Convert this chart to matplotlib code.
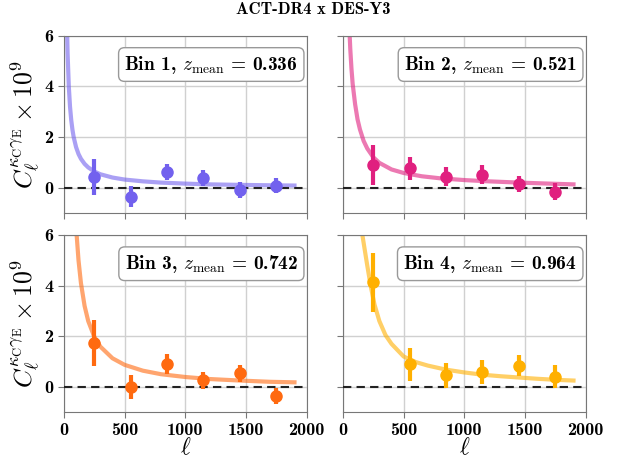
import matplotlib
matplotlib.use("Agg")
import matplotlib.pyplot as plt

plt.rcParams['font.family'] = ['cmb10', 'DejaVu Serif']
plt.rcParams['mathtext.fontset'] = 'cm'
plt.rcParams['axes.unicode_minus'] = False

# band-power centres
ell_data = [250, 550, 850, 1150, 1450, 1750]

# measured points (C_l x 1e9) and errors, per tomographic bin
bin1_cl = [0.42, -0.35, 0.63, 0.39, -0.09, 0.08]
bin1_err = [0.72, 0.40, 0.31, 0.31, 0.30, 0.31]
bin2_cl = [0.90, 0.77, 0.44, 0.51, 0.14, -0.16]
bin2_err = [0.80, 0.46, 0.39, 0.37, 0.33, 0.34]
bin3_cl = [1.74, 0.00, 0.90, 0.26, 0.53, -0.36]
bin3_err = [0.92, 0.47, 0.39, 0.33, 0.34, 0.33]
bin4_cl = [4.13, 0.90, 0.46, 0.59, 0.83, 0.40]
bin4_err = [1.17, 0.65, 0.50, 0.46, 0.41, 0.45]

# theory curves
bin1_ell = [25, 30, 40, 50, 60, 70, 80, 100, 120, 140, 170, 200, 250, 300,
            400, 500, 650, 800, 1000, 1200, 1450, 1700, 1900]
bin1_model = [6.4, 5.3, 4.0, 3.2, 2.67, 2.29, 2.0, 1.6, 1.33, 1.14, 0.94, 0.8,
              0.64, 0.53, 0.4, 0.32, 0.25, 0.2, 0.16, 0.13, 0.11, 0.094, 0.084]
bin2_ell = [50, 60, 70, 80, 100, 120, 140, 170, 200, 250, 300, 400, 500, 650,
            800, 1000, 1200, 1450, 1700, 1900]
bin2_model = [6.6, 5.5, 4.7, 4.1, 3.3, 2.7, 2.3, 1.85, 1.55, 1.2, 0.98, 0.72,
              0.58, 0.45, 0.37, 0.3, 0.25, 0.2, 0.16, 0.13]
bin3_ell = [100, 120, 140, 170, 200, 250, 300, 400, 500, 650, 800, 1000, 1200,
            1450, 1700, 1900]
bin3_model = [6.3, 5.0, 4.1, 3.2, 2.6, 1.98, 1.59, 1.13, 0.87, 0.64, 0.5, 0.39,
              0.31, 0.25, 0.2, 0.18]
bin4_ell = [140, 160, 180, 200, 230, 260, 300, 350, 400, 500, 600, 700, 850,
            1000, 1150, 1300, 1450, 1600, 1750, 1900]
bin4_model = [7.0, 6.0, 5.4, 4.8, 3.95, 3.25, 2.6, 2.05, 1.7, 1.2, 0.98, 0.84,
              0.68, 0.57, 0.48, 0.42, 0.37, 0.32, 0.28, 0.25]

labels = ['Bin 1, $z_{\\rm mean}$ = 0.336', 'Bin 2, $z_{\\rm mean}$ = 0.521',
          'Bin 3, $z_{\\rm mean}$ = 0.742', 'Bin 4, $z_{\\rm mean}$ = 0.964']
colors = ['#7261ee', '#e0207f', '#ff6a10', '#ffb000']

bins = [(bin1_ell, bin1_model, bin1_cl, bin1_err),
        (bin2_ell, bin2_model, bin2_cl, bin2_err),
        (bin3_ell, bin3_model, bin3_cl, bin3_err),
        (bin4_ell, bin4_model, bin4_cl, bin4_err)]

fig = plt.figure(figsize=(6.27, 4.59), dpi=100)
w, h = 0.387, 0.386
positions = [[0.102, 0.536, w, h], [0.547, 0.536, w, h],
             [0.102, 0.102, w, h], [0.547, 0.102, w, h]]

for i, (pos, b) in enumerate(zip(positions, bins)):
    ax = fig.add_axes(pos)
    ell_m, model, cl, err = b
    c = colors[i]
    ax.plot(ell_m, model, color=c, alpha=0.6, lw=3, zorder=2)
    ax.axhline(0, color='#222222', ls='--', lw=1.5, dashes=(4, 2.5), zorder=3)
    ax.errorbar(ell_data, cl, yerr=err, fmt='o', color=c, ms=8, elinewidth=3,
                capsize=0, zorder=4)
    ax.set_xlim(0, 2000)
    ax.set_ylim(-1, 6)
    ax.set_xticks([0, 500, 1000, 1500, 2000])
    ax.set_yticks([0, 2, 4, 6])
    ax.grid(True, color='#d0d0d0', lw=1)
    ax.set_axisbelow(True)
    for s in ax.spines.values():
        s.set_color('#777777')
    ax.tick_params(colors='#777777', labelcolor='black', labelsize=13,
                   length=4)
    if i < 2:
        ax.tick_params(labelbottom=False)
    else:
        ax.set_xlabel(r'$\ell$', fontsize=17, labelpad=0)
    if i % 2 == 1:
        ax.tick_params(labelleft=False)
    else:
        ax.set_ylabel(r'$C_\ell^{\kappa_{\rm C}\gamma_{\rm E}} \times 10^9$',
                      fontsize=18.5, labelpad=2)
    ax.text(0.965, 0.9, labels[i], transform=ax.transAxes, ha='right',
            va='top', fontsize=14,
            bbox=dict(boxstyle='round,pad=0.3', fc='white', ec='#999999'))

fig.suptitle('ACT-DR4 x DES-Y3', fontsize=12, x=0.5, y=0.995)
fig.savefig('out.png', dpi=100)
